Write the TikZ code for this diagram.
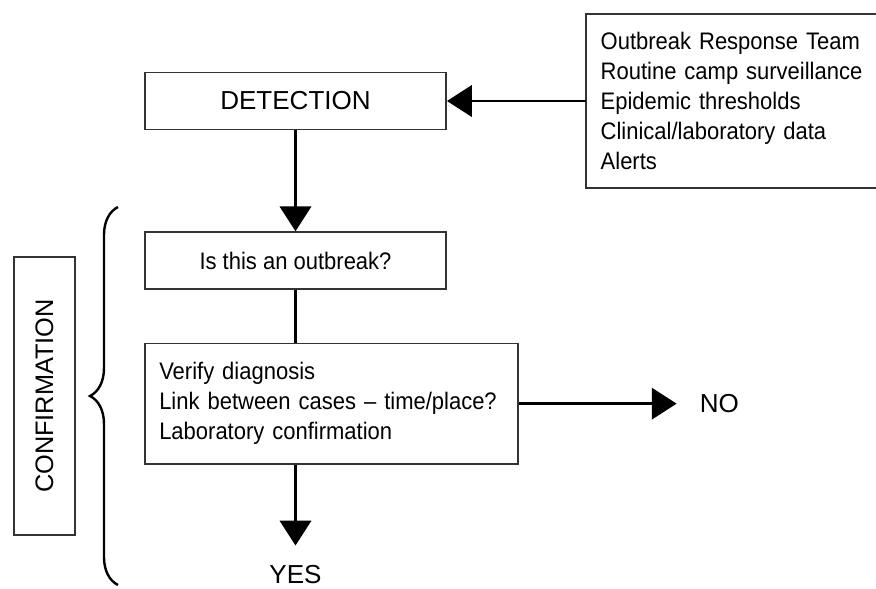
\documentclass[tikz,border=0pt]{standalone}
\usepackage{fontspec}
\setmainfont{Liberation Sans}
\newfontfamily\condfont{Liberation Sans}[FakeStretch=0.92]
\usetikzlibrary{arrows.meta, positioning, decorations.pathreplacing}

\begin{document}
\begin{tikzpicture}[
        x=0.025cm, y=-0.025cm,
        % --- Styles ---
        stage/.style={rectangle, draw=black!80, line width=1.2pt, minimum width=7.53cm, minimum height=1.42cm, font=\fontsize{18.5}{22}\selectfont},
        question/.style={rectangle, draw=black!80, line width=1.2pt, minimum width=7.53cm, minimum height=1.42cm, font=\condfont\fontsize{17}{21.3}\selectfont},
        listtext/.style={rectangle, align=left, inner xsep=0.36cm, font=\condfont\fontsize{17}{21.3}\selectfont},
        listbox/.style={listtext, draw=black!80, line width=1.2pt},
        frame/.style={draw=black!80, line width=1.2pt},
        answer/.style={inner sep=0pt, font=\fontsize{18.5}{22}\selectfont},
        % --- Line Styles ---
        line/.style={draw, line width=2pt},
        arrow/.style={line, -{Triangle[length=0.62cm, width=0.78cm]}},
        brace/.style={draw, line width=1.7pt, decorate, decoration={brace, amplitude=0.7cm}}
    ]
        \clip (0,0) rectangle (876,588);

        % --- Detection and its sources ---
        \node[stage] (detect) at (295.5,101) {DETECTION};
        \node[listtext, right=3.475cm of detect, text width=8cm, minimum height=4.35cm] (sources)
            {Outbreak Response Team\\Routine camp surveillance\\Epidemic thresholds\\Clinical/laboratory data\\Alerts};
        % the sources box runs off the right edge
        \coordinate (edge) at (900,0);
        \draw[frame] (edge |- sources.north) -- (sources.north west) -- (sources.south west) -- (edge |- sources.south);

        % --- Confirmation steps ---
        \node[question, below=2.525cm of detect] (outbreak) {Is this an outbreak?};
        \node[listbox, below=1.325cm of outbreak.south west, anchor=north west, text width=8.6cm, minimum height=3cm] (verify)
            {Verify diagnosis\\Link between cases – time/place?\\Laboratory confirmation};

        \node[answer, right=4.525cm of verify] (no) {NO};
        \node[answer] (yes) at (295.5,575) {YES};

        % --- Confirmation bracket ---
        \node[stage, rotate=90, minimum width=6.95cm, minimum height=1.525cm, font=\fontsize{18}{22}\selectfont] (confirm) at (44.5,396) {CONFIRMATION};
        \coordinate (bracetop) at (118,207);
        \coordinate (bracebot) at (118,585);
        \draw[brace] (bracebot) -- (bracetop);

        % --- Connections ---
        \draw[arrow] (sources.west) -- (detect.east);
        \draw[arrow] (detect.south) -- (outbreak.north);
        \draw[line] (outbreak.south) -- (outbreak.south |- verify.north);
        \draw[arrow, shorten >=0.575cm] (verify.east) -- (no);
        \draw[arrow, shorten >=0.5cm] (outbreak.south |- verify.south) -- (yes);

    \end{tikzpicture}
\end{document}
